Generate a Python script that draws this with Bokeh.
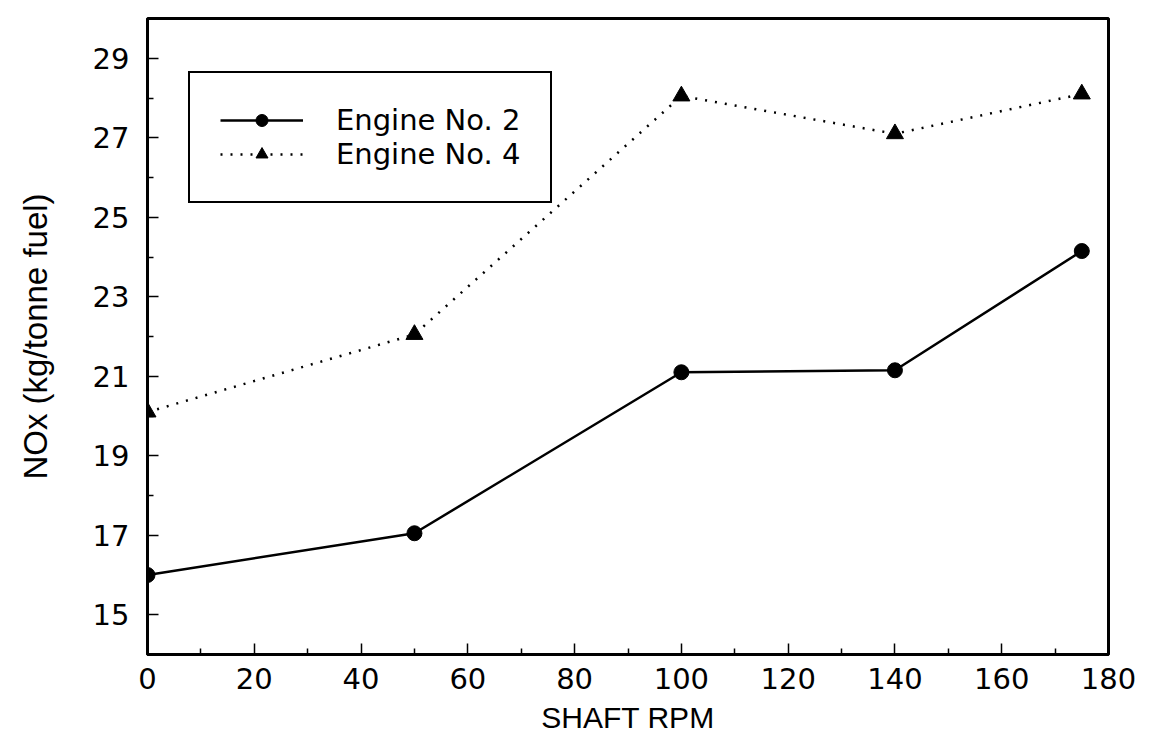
from bokeh.plotting import figure
from bokeh.models import FixedTicker, Legend, LegendItem, Range1d
from bokeh.embed import file_html
from bokeh.resources import INLINE

# ---- data ----
rpm = [0, 50, 100, 140, 175]
nox_engine2 = [16.0, 17.05, 21.1, 21.15, 24.15]
nox_engine4 = [20.1, 22.05, 28.05, 27.1, 28.1]
series_labels = ["Engine No. 2", "Engine No. 4"]

x_major_ticks = [0, 20, 40, 60, 80, 100, 120, 140, 160, 180]
x_minor_ticks = [10, 30, 50, 70, 90, 110, 130, 150, 170]
y_major_ticks = [15, 17, 19, 21, 23, 25, 27, 29]
y_minor_ticks = [16, 18, 20, 22, 24, 26, 28]

x_title = "SHAFT RPM"
y_title = "NOx (kg/tonne fuel)"

TICK_FONT = "DejaVu Sans"
TITLE_FONT = "Liberation Sans"

p = figure(
    width=1151, height=751,
    x_range=Range1d(0, 180), y_range=Range1d(14, 30),
    output_backend="svg", toolbar_location=None,
    min_border_left=147, min_border_right=43,
    min_border_top=18, min_border_bottom=97,
)
p.background_fill_color = "white"
p.border_fill_color = "white"
p.outline_line_color = "black"
p.outline_line_width = 3
p.outline_line_alpha = 1.0
p.xgrid.visible = False
p.ygrid.visible = False

l2 = p.line(rpm, nox_engine2, line_color="black", line_width=2.5)
s2 = p.scatter(rpm, nox_engine2, marker="circle", size=15, fill_color="black", line_color="black")
l4 = p.line(rpm, nox_engine4, line_color="black", line_width=2.5, line_dash="2 8")
s4 = p.scatter(rpm, nox_engine4, marker="triangle", size=17, fill_color="black", line_color="black")

p.xaxis.ticker = FixedTicker(ticks=x_major_ticks, minor_ticks=x_minor_ticks)
p.yaxis.ticker = FixedTicker(ticks=y_major_ticks, minor_ticks=y_minor_ticks)

for ax in (p.xaxis, p.yaxis):
    ax.axis_line_color = "black"
    ax.axis_line_width = 3
    ax.major_tick_line_color = "black"
    ax.minor_tick_line_color = "black"
    ax.major_tick_line_width = 1.5
    ax.minor_tick_line_width = 1.5
    ax.major_tick_in = 11
    ax.major_tick_out = 0
    ax.minor_tick_in = 6
    ax.minor_tick_out = 0
    ax.major_label_text_font = TICK_FONT
    ax.major_label_text_font_size = "29px"
    ax.major_label_text_color = "black"
    ax.axis_label_text_font = TITLE_FONT
    ax.axis_label_text_font_style = "normal"
    ax.axis_label_text_color = "black"

p.xaxis.axis_label = x_title
p.yaxis.axis_label = y_title
p.xaxis.major_label_standoff = 13
p.yaxis.major_label_standoff = 18
p.xaxis.axis_label_standoff = 9
p.yaxis.axis_label_standoff = 36
p.xaxis.axis_label_text_font_size = "30px"
p.yaxis.axis_label_text_font_size = "33px"

legend = Legend(
    items=[
        LegendItem(label=series_labels[0], renderers=[l2, s2]),
        LegendItem(label=series_labels[1], renderers=[l4, s4]),
    ],
    location=(41, 451),
    margin=0,
    padding=30,
    spacing=0,
    glyph_width=83,
    glyph_height=30,
    label_height=30,
    label_standoff=33,
    label_text_font=TICK_FONT,
    label_text_font_size="29px",
    label_text_color="black",
    border_line_color="black",
    border_line_alpha=1.0,
    border_line_width=2.5,
    background_fill_color="white",
    background_fill_alpha=1.0,
)
p.add_layout(legend)

open("out.html", "w").write(file_html(p, INLINE))
